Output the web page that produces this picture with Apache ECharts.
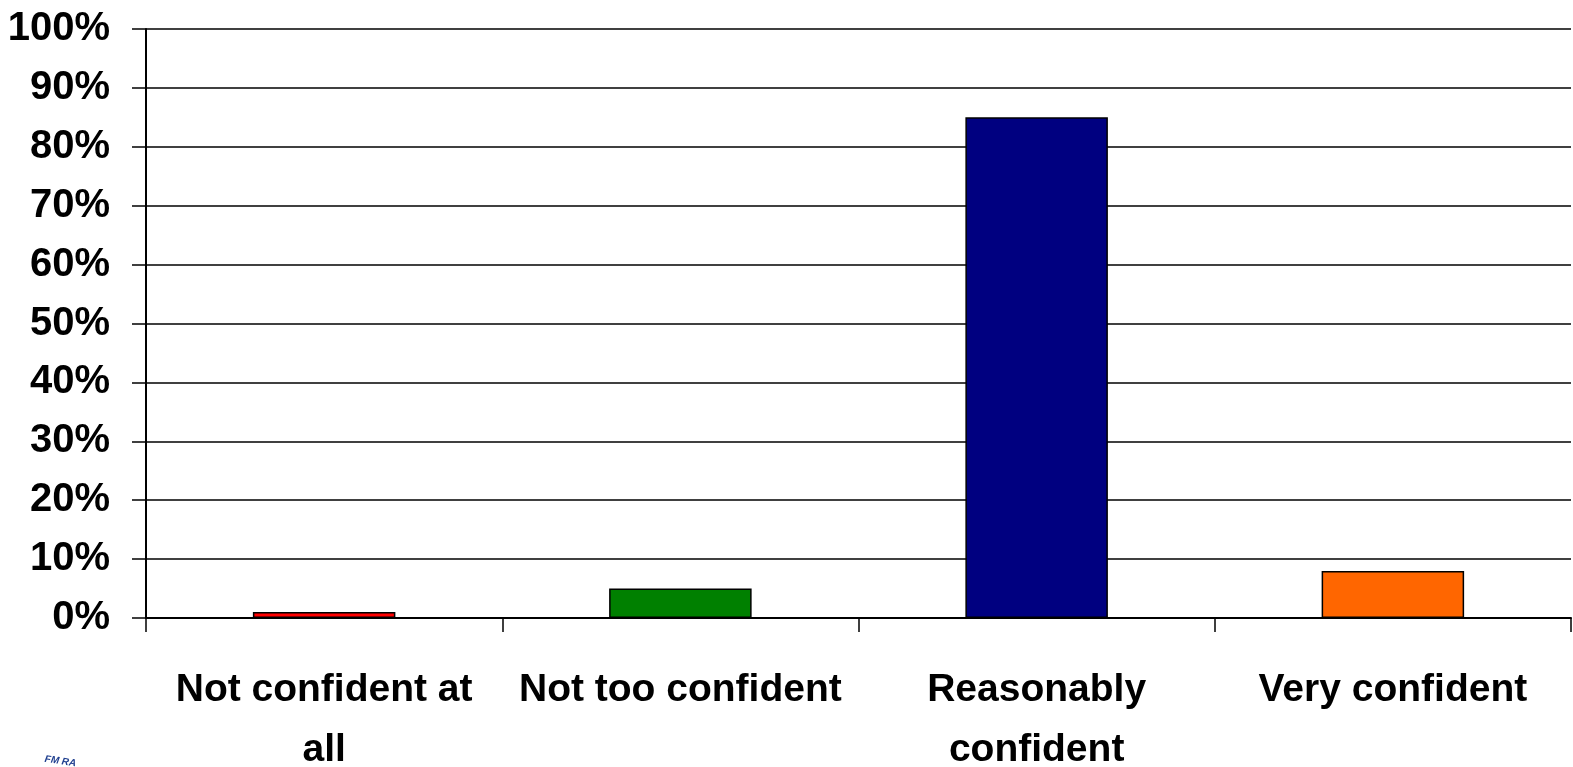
<!DOCTYPE html>
<html>
<head>
<meta charset="utf-8">
<style>
  html, body { margin: 0; padding: 0; background: #fff; }
  #chart { width: 1573px; height: 767px; }
</style>
<script src="https://cdn.jsdelivr.net/npm/echarts@6/dist/echarts.min.js"></script>
</head>
<body>
<div id="chart"></div>
<script>
// categories (line breaks as in the original slide)
var categories = ["Not confident at\nall", "Not too confident", "Reasonably\nconfident", "Very confident"];
var values = [1, 5, 85, 8];
var barColors = ["#FF0000", "#008000", "#000080", "#FF6600"];

var myChart = echarts.init(document.getElementById("chart"));
var font = "'Liberation Sans', Arial, sans-serif";

var option = {
	animation: false,
	grid: { left: 146, right: 2, top: 29, bottom: 149, outerBoundsMode: "none", containLabel: false },
	xAxis: {
		type: "category",
		data: categories,
		axisLine: { lineStyle: { color: "#000", width: 2 } },
		axisTick: { show: true, length: 14, lineStyle: { color: "#000", width: 1.5 } },
		axisLabel: {
			color: "#000",
			fontFamily: font,
			fontWeight: "bold",
			fontSize: 39,
			lineHeight: 60,
			margin: 42,
			interval: 0
		}
	},
	yAxis: {
		type: "value",
		min: 0,
		max: 100,
		interval: 10,
		axisLine: { show: true, lineStyle: { color: "#000", width: 2 } },
		axisTick: { show: true, length: 14, lineStyle: { color: "#000", width: 1.5 } },
		splitLine: { lineStyle: { color: "#000", width: 1.5 } },
		axisLabel: {
			color: "#000",
			fontFamily: font,
			fontWeight: "bold",
			fontSize: 40,
			margin: 36,
			formatter: "{value}%"
		}
	},
	series: [
		{
			type: "bar",
			barWidth: "40%",
			data: values.map(function (v, i) {
				return {
					value: v,
					itemStyle: { color: barColors[i], borderColor: "#000", borderWidth: 1.5 }
				};
			})
		}
	],
	graphic: [
		{
			type: "text",
			left: 44,
			top: 754,
			rotation: -0.15,
			style: {
				text: "FM RA",
				fill: "#1f3f8f",
				font: "italic bold 10px " + font
			}
		}
	]
};

myChart.setOption(option);
</script>
</body>
</html>
